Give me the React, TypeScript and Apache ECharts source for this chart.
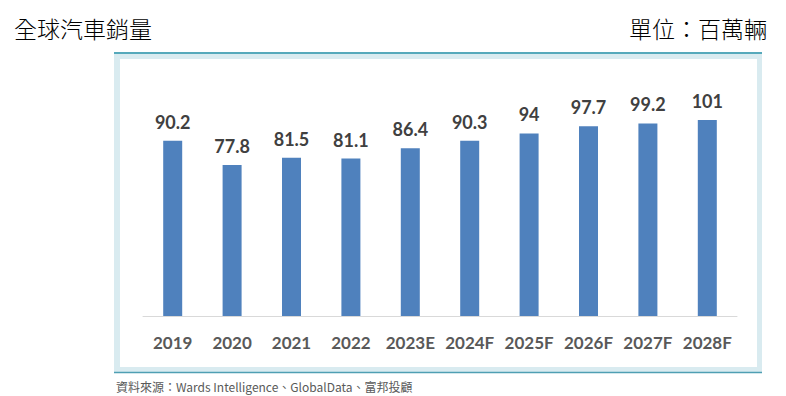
import React, { useEffect, useRef } from "react";
import * as echarts from "echarts";

const categories = ["2019", "2020", "2021", "2022", "2023E", "2024F", "2025F", "2026F", "2027F", "2028F"];
const sales = [90.2, 77.8, 81.5, 81.1, 86.4, 90.3, 94, 97.7, 99.2, 101];
const titleText = "全球汽車銷量";
const unitText = "單位：百萬輛";
const sourceText = "資料來源：Wards Intelligence、GlobalData、富邦投顧";

export default function App() {
  const ref = useRef<HTMLDivElement>(null);
  useEffect(() => {
    document.body.style.margin = "0";
    const chart = echarts.init(ref.current!, null, { renderer: "svg" });
    chart.setOption({
      animation: false,
      backgroundColor: "#ffffff",
      graphic: [
        { type: "rect", z: -10, shape: { x: 114, y: 53, width: 648, height: 320 }, style: { fill: "#d9ebf0" } },
        { type: "rect", z: -9, shape: { x: 120, y: 59, width: 637, height: 308 }, style: { fill: "#ffffff" } },
        { type: "line", z: -8, shape: { x1: 114, y1: 53, x2: 762, y2: 53 }, style: { stroke: "#56a9bb", lineWidth: 2 } },
        { type: "line", z: -8, shape: { x1: 114, y1: 372.5, x2: 762, y2: 372.5 }, style: { stroke: "#4f9fb3", lineWidth: 1.5 } },
        {
          type: "text", left: 14, top: 16,
          style: { text: titleText, fontSize: 23, fill: "#000000", fontFamily: "Noto Sans CJK TC", fontWeight: 300 },
        },
        {
          type: "text", right: 19, top: 16,
          style: { text: unitText, fontSize: 23, fill: "#000000", fontFamily: "Noto Sans CJK TC", fontWeight: 300 },
        },
        {
          type: "text", left: 116, top: 380,
          style: { text: sourceText, fontSize: 12, fill: "#595959", fontFamily: "Noto Sans CJK TC", fontWeight: "normal" },
        },
      ],
      grid: { left: 143, right: 49, top: 83, bottom: 80 },
      xAxis: {
        type: "category",
        data: categories,
        axisLine: { lineStyle: { color: "#d9d9d9", width: 1 } },
        axisTick: { show: false },
        axisLabel: { interval: 0, color: "#595959", fontSize: 17, fontWeight: "bold", fontFamily: "Lato", margin: 18 },
      },
      yAxis: {
        type: "value",
        min: 0,
        max: 120,
        show: false,
        splitLine: { show: false },
      },
      series: [
        {
          type: "bar",
          data: sales,
          barWidth: 19,
          itemStyle: { color: "#4f81bd" },
          label: {
            show: true,
            position: "top",
            distance: 10,
            color: "#404040",
            fontSize: 18,
            fontWeight: "bold",
            fontFamily: "Lato",
          },
        },
      ],
    });
    return () => chart.dispose();
  }, []);
  return <div ref={ref} style={{ position: "absolute", left: 0, top: 0, width: 786, height: 396 }} />;
}
